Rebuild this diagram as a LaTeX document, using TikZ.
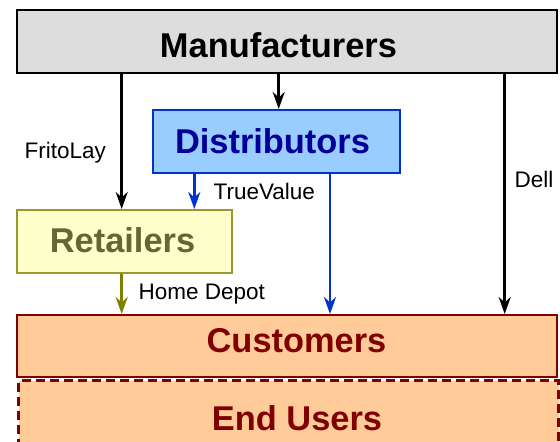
\documentclass[tikz,border=0pt]{standalone}
\usepackage{fontspec}
\setmainfont{Liberation Sans}
\usetikzlibrary{arrows.meta}

\definecolor{manufill}{HTML}{DDDDDD}
\definecolor{distfill}{HTML}{99CCFF}
\definecolor{distline}{HTML}{0033CC}
\definecolor{disttext}{HTML}{000099}
\definecolor{retfill}{HTML}{FFFFCC}
\definecolor{retline}{HTML}{999933}
\definecolor{rettext}{HTML}{666633}
\definecolor{retarrow}{HTML}{808000}
\definecolor{custfill}{HTML}{FFCC99}
\definecolor{custline}{HTML}{800000}

\tikzset{
  box/.style={draw, rectangle, line width=2pt, anchor=north west, inner sep=0pt},
  title/.style={font=\fontsize{34.4}{40}\selectfont\bfseries, inner sep=0pt},
  flow/.style={line width=2.8pt, -{Stealth[length=17pt, width=12pt, inset=5.5pt]}},
  flowlabel/.style={font=\fontsize{22.5}{27}\selectfont, text=black, inner sep=0pt}
}

\begin{document}
\begin{tikzpicture}[x=1pt, y=-1pt]
            \useasboundingbox (0,0) rectangle (560,442);

            % draw boxes
            \node[box, fill=manufill, minimum width=540pt, minimum height=63pt] (manu) at (16,9) {};
            \node[box, draw=distline, fill=distfill, minimum width=247pt, minimum height=63pt] (dist) at (152,109) {};
            \node[box, draw=retline, fill=retfill, minimum width=215pt, minimum height=63pt] (ret) at (16,209) {};
            \node[box, draw=custline, line width=3.3pt, dash pattern=on 9pt off 5pt, fill=custfill,
                  minimum width=540pt, minimum height=80pt] (endu) at (17,379) {};
            \node[box, draw=custline, fill=custfill, minimum width=540pt, minimum height=62pt] (cust) at (16,314) {};

            % draw box titles
            \node[title]                 (manutext) at (278.5, 45.3) {Manufacturers};
            \node[title, text=disttext]  (disttext) at (272.5,141)   {Distributors};
            \node[title, text=rettext]   (rettext)  at (122.5,240)   {Retailers};
            \node[title, text=custline]  (custtext) at (296.5,341)   {Customers};
            \node[title, text=custline]  (endutext) at (297,  418)   {End Users};

            % columns of the flows
            \coordinate (colA) at (121.7,0);
            \coordinate (colB) at (194.3,0);
            \coordinate (colC) at (278.7,0);
            \coordinate (colD) at (330,0);
            \coordinate (colE) at (504.7,0);

            % draw flows
            \draw[flow] (manu.south -| colA) -- node[flowlabel, pos=0.584, left=14.5pt] (fritolay) {FritoLay} (ret.north -| colA);
            \draw[flow] (manu.south -| colC) -- (dist.north -| colC);
            \draw[flow] (manu.south -| colE) -- node[flowlabel, pos=0.44, right=8.5pt] (dell) {Dell} (cust.north -| colE);
            \draw[flow, distline] (dist.south -| colB) -- node[flowlabel, pos=0.51, right=18pt] (truevalue) {TrueValue} (ret.north -| colB);
            \draw[flow, distline] (dist.south -| colD) -- (cust.north -| colD);
            \draw[flow, retarrow] (ret.south -| colA) -- node[flowlabel, pos=0.5, right=15.5pt] (homedepot) {Home Depot} (cust.north -| colA);
        \end{tikzpicture}
\end{document}
